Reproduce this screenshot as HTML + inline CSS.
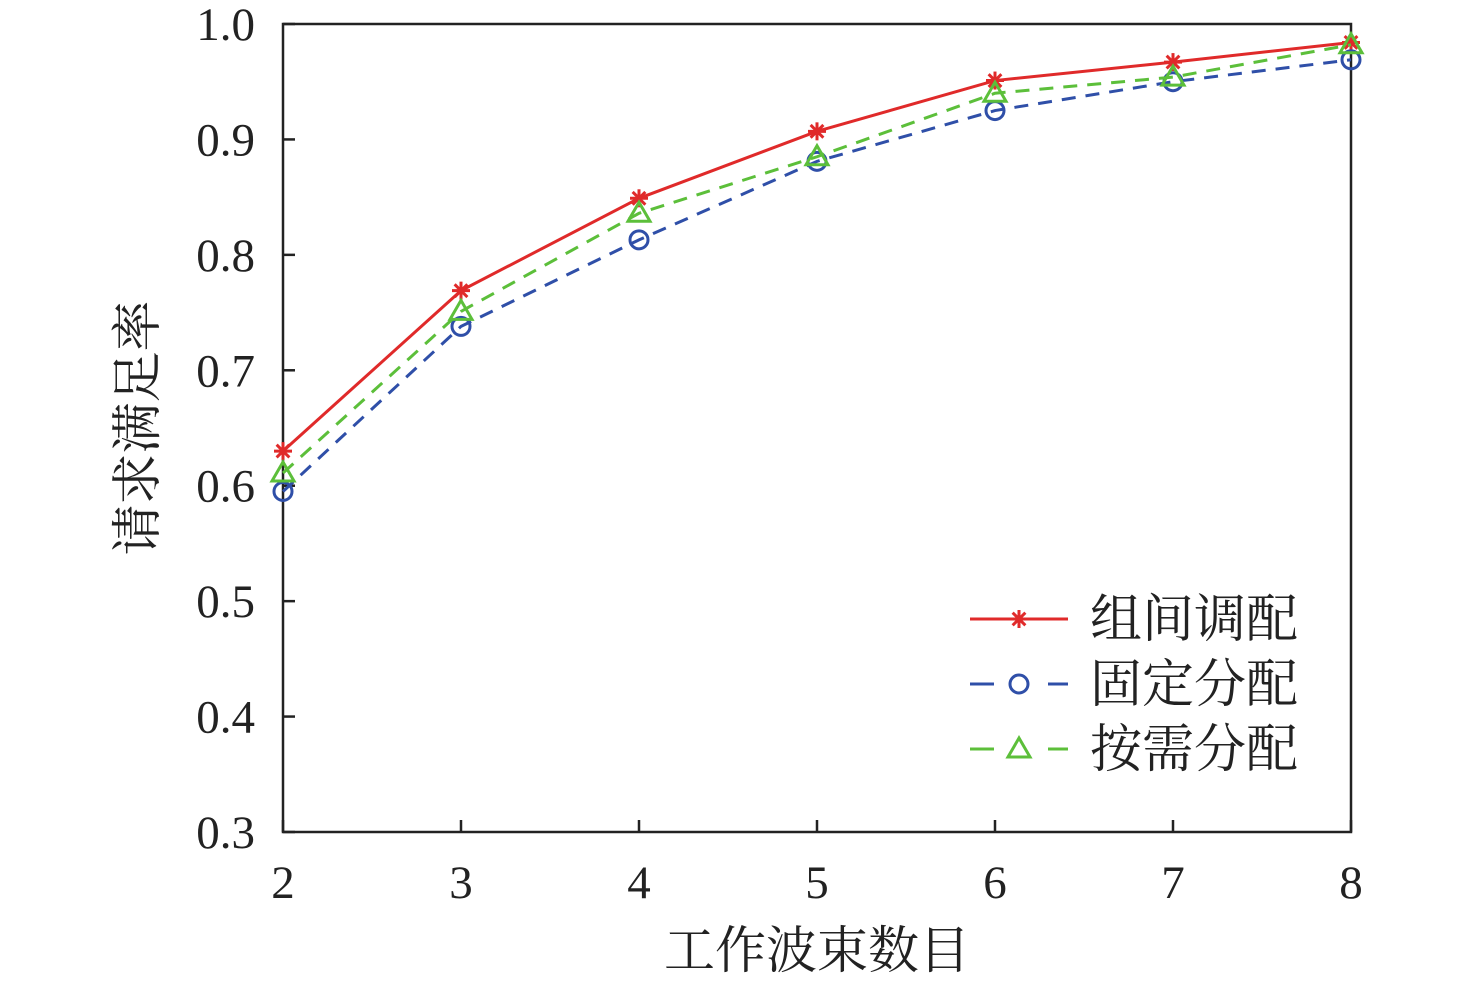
<!DOCTYPE html>
<html><head><meta charset="utf-8"><style>
html,body{margin:0;padding:0;background:#fff;width:1476px;height:983px;overflow:hidden}
svg text{font-family:"Liberation Serif","Noto Serif CJK SC",serif;fill:#222}
</style></head><body>
<svg id="chart" width="1476" height="983" xmlns="http://www.w3.org/2000/svg"></svg>
<script>
const categories=[2,3,4,5,6,7,8];
const seriesRed=[0.630,0.769,0.849,0.907,0.951,0.967,0.984];
const seriesBlue=[0.595,0.738,0.813,0.881,0.925,0.950,0.969];
const seriesGreen=[0.611,0.751,0.836,0.885,0.940,0.954,0.982];
const yTicks=["0.3","0.4","0.5","0.6","0.7","0.8","0.9","1.0"];
const seriesNames=["组间调配","固定分配","按需分配"];

const NS="http://www.w3.org/2000/svg";
const svg=document.getElementById('chart');
const L=283,R=1351,T=24,B=832;
const xs=v=>L+(v-2)/6*(R-L);
const ys=v=>B-(v-0.3)/0.7*(B-T);
function mk(tag,attrs,parent){const e=document.createElementNS(NS,tag);for(const k in attrs)e.setAttribute(k,attrs[k]);(parent||svg).appendChild(e);return e;}

const box=mk('rect',{x:L,y:T,width:R-L,height:B-T,fill:'none',stroke:'#222','stroke-width':2.5});


categories.forEach(c=>{
  const x=xs(c);
  const t=mk('line',{x1:x,x2:x,y1:B,y2:B-12,stroke:'#222','stroke-width':2.5});
  
  
  const lb=mk('text',{x:x,y:B+66,'font-size':47,'text-anchor':'middle'});lb.textContent=c;
  
  
});
yTicks.forEach(s=>{
  const y=ys(parseFloat(s));
  const t=mk('line',{x1:L,x2:L+12,y1:y,y2:y,stroke:'#222','stroke-width':2.5});
  
  
  const lb=mk('text',{x:L-28,y:y+16,'font-size':47,'text-anchor':'end'});lb.textContent=s;
  
  
});
const xt=mk('text',{x:(L+R)/2,y:968,'font-size':51,'text-anchor':'middle'});xt.textContent='工作波束数目';


const yt=mk('text',{x:0,y:0,'font-size':51,'text-anchor':'middle',transform:'translate(155,428) rotate(-90)'});yt.textContent='请求满足率';



function marker(type,x,y,color,name){
  const g=mk('g',{stroke:color,'stroke-width':3,fill:'none'});
  
  
  if(type==='star'){
    for(let a=0;a<180;a+=45){const r=(a+90)*Math.PI/180,d=9;mk('line',{x1:x-d*Math.cos(r),y1:y-d*Math.sin(r),x2:x+d*Math.cos(r),y2:y+d*Math.sin(r)},g);}
  }else if(type==='circle'){mk('circle',{cx:x,cy:y,r:9},g);}
  else {mk('path',{d:`M${x-11} ${y+8}L${x} ${y-11}L${x+11} ${y+8}Z`},g);}
}
const series=[[seriesRed,'#e02a2a','',  'star','series-red'],[seriesBlue,'#2f4fa8','14 10','circle','series-blue'],[seriesGreen,'#5cbf3a','14 10','tri','series-green']];
series.forEach(([d,c,dash,m,n])=>{
  const p=mk('polyline',{points:d.map((v,i)=>xs(categories[i])+','+ys(v)).join(' '),fill:'none',stroke:c,'stroke-width':3,'stroke-dasharray':dash});
  
  
  d.forEach((v,i)=>marker(m,xs(categories[i]),ys(v),c,n+'-point'));
});
const lg=mk('g',{});


series.forEach(([d,c,dash,m,n],i)=>{
  const y=619+i*65;
  const l=mk('line',{x1:970,x2:1068,y1:y,y2:y,stroke:c,'stroke-width':3,'stroke-dasharray':dash?'24 54':''},lg);
  
  
  marker(m,1019,y,c,'legend-marker');
  const t=mk('text',{x:1090,y:y+18,'font-size':52},lg);t.textContent=seriesNames[i];
  
  
});
</script>
</body></html>
